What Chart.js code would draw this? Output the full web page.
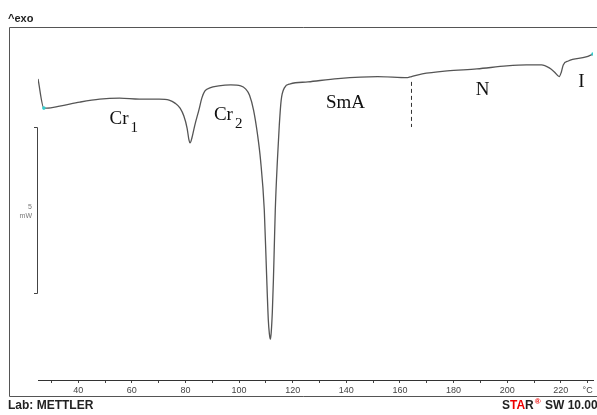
<!DOCTYPE html>
<html>
<head>
<meta charset="utf-8">
<script src="https://cdn.jsdelivr.net/npm/chart.js@4.4.1/dist/chart.umd.min.js"></script>
<style>
  html, body { margin: 0; padding: 0; background: #fff; }
  canvas { display: block; }
</style>
</head>
<body>
<canvas id="dscChart" width="597" height="415"></canvas>
<script>
// temperature (°C) and heat flow (mW, arbitrary offset)
const temps = [
  25.0, 27.2, 28.3, 33.1, 40.6, 48.0, 55.4, 62.8, 70.2, 73.9,
  76.1, 78.0, 79.4, 80.6, 81.3, 81.7, 82.4, 83.5, 85.0, 86.1,
  87.2, 89.1, 92.4, 96.9, 100.6, 102.4, 103.9, 105.4, 106.9, 108.0,
  109.4, 110.2, 110.9, 111.3, 111.7, 112.0, 112.4, 112.8, 113.1, 113.5,
  114.3, 115.0, 115.7, 116.9, 119.1, 125.7, 136.9, 151.7, 162.8, 164.3,
  168.3, 177.6, 188.7, 199.8, 207.2, 212.8, 215.7, 217.6, 219.4, 220.2,
  220.9, 222.8, 229.4, 232.0
];
const heatFlow = [
  9.07, 8.19, 8.19, 8.25, 8.37, 8.46, 8.49, 8.46, 8.46, 8.43,
  8.34, 8.19, 7.95, 7.59, 7.23, 7.14, 7.29, 7.68, 8.13, 8.49,
  8.70, 8.80, 8.86, 8.89, 8.86, 8.77, 8.58, 8.13, 7.38, 6.63,
  5.12, 3.31, 1.81, 1.39, 1.23, 1.45, 2.05, 3.01, 3.92, 5.12,
  6.63, 7.68, 8.43, 8.80, 8.92, 8.98, 9.08, 9.14, 9.11, 9.14,
  9.22, 9.31, 9.37, 9.46, 9.49, 9.49, 9.40, 9.28, 9.14, 9.28,
  9.49, 9.61, 9.73, 9.82
];
// SmA -> N transition marker
const transitionT = 164.3;
const transitionRange = [8.98, 7.62];

const xTicks = [30, 40, 50, 60, 70, 80, 90, 100, 110, 120, 130, 140, 150, 160, 170, 180, 190, 200, 210, 220, 230];
const unitLabel = '°C';

const phaseNames = ['Cr', 'Cr', 'SmA', 'N', 'I'];
const phaseSubs = ['1', '2', '', '', ''];
const phaseAt = [[51.7, 7.71], [90.6, 7.83], [132.4, 8.19], [188.3, 8.57], [226.5, 8.83]];

const scaleBar = [2.62, 7.62]; // 5 mW

const decor = {
  id: 'decor',
  afterDraw(chart) {
    const ctx = chart.ctx;
    const x = chart.scales.x, y = chart.scales.y;
    ctx.save();
    // frame
    ctx.strokeStyle = '#555';
    ctx.lineWidth = 1;
    ctx.beginPath();
    ctx.moveTo(600, 27.5);
    ctx.lineTo(9.5, 27.5);
    ctx.lineTo(9.5, 396.5);
    ctx.lineTo(600, 396.5);
    ctx.stroke();

    // header / footer
    ctx.fillStyle = '#222';
    ctx.font = 'bold 11px "Liberation Sans"';
    ctx.textBaseline = 'alphabetic';
    ctx.fillText('^exo', 8, 22);
    ctx.font = 'bold 12px "Liberation Sans"';
    ctx.fillText('Lab: METTLER', 8, 409);
    let px = 502;
    const parts = [['S', '#222'], ['TA', '#e00'], ['R', '#222']];
    parts.forEach(p => {
      ctx.fillStyle = p[1];
      ctx.fillText(p[0], px, 409);
      px += ctx.measureText(p[0]).width;
    });
    ctx.fillStyle = '#e00';
    ctx.font = 'bold 8px "Liberation Sans"';
    ctx.fillText('®', px + 1, 404);
    px += ctx.measureText('®').width + 2;
    ctx.fillStyle = '#222';
    ctx.font = 'bold 12px "Liberation Sans"';
    ctx.fillText(' SW 10.00', px, 409);

    // 5 mW scale bar
    const y1 = Math.round(y.getPixelForValue(scaleBar[1])) + 0.5;
    const y0 = Math.round(y.getPixelForValue(scaleBar[0])) + 0.5;
    ctx.strokeStyle = '#444';
    ctx.beginPath();
    ctx.moveTo(34, y1); ctx.lineTo(37.5, y1); ctx.lineTo(37.5, y0); ctx.lineTo(34, y0);
    ctx.stroke();
    ctx.fillStyle = '#777';
    ctx.font = '7px "Liberation Sans"';
    ctx.textAlign = 'right';
    const ym = (y0 + y1) / 2;
    ctx.fillText('5', 32, ym - 2);
    ctx.fillText('mW', 32, ym + 7);

    // phase labels
    ctx.textAlign = 'left';
    ctx.fillStyle = '#111';
    phaseNames.forEach((name, i) => {
      const lx = x.getPixelForValue(phaseAt[i][0]);
      const ly = y.getPixelForValue(phaseAt[i][1]);
      ctx.font = '19px "Liberation Serif"';
      ctx.fillText(name, lx, ly);
      if (phaseSubs[i]) {
        const w = ctx.measureText(name).width;
        ctx.font = '15px "Liberation Serif"';
        ctx.fillText(phaseSubs[i], lx + w + 2, ly + 8);
      }
    });
    ctx.restore();
  }
};

const ctx = document.getElementById('dscChart').getContext('2d');
const chart = new Chart(ctx, {
  type: 'line',
  data: {
    datasets: [
      {
        data: temps.map((t, i) => ({ x: t, y: heatFlow[i] })),
        borderColor: '#555',
        borderWidth: 1.3,
        cubicInterpolationMode: 'monotone',
        pointRadius: c => (c.dataIndex === 1 || c.dataIndex === temps.length - 1) ? 1.8 : 0,
        pointBackgroundColor: '#3cc',
        pointBorderColor: '#3cc',
        pointBorderWidth: 0,
      },
      {
        data: transitionRange.map(v => ({ x: transitionT, y: v })),
        borderColor: '#333',
        borderWidth: 1,
        borderDash: [4, 3],
        pointRadius: 0,
      }
    ]
  },
  options: {
    responsive: false,
    animation: false,
    layout: { padding: { left: 38, top: 27, right: 0, bottom: 0 } },
    plugins: { legend: { display: false }, tooltip: { enabled: false } },
    scales: {
      x: {
        type: 'linear',
        min: 25,
        max: 232,
        grid: { drawOnChartArea: false, tickLength: 3, color: '#444' },
        border: { color: '#333' },
        ticks: {
          autoSkip: false,
          maxRotation: 0,
          padding: 2,
          color: '#444',
          font: { size: 9, family: 'Liberation Sans' },
          callback: v => v === 230 ? unitLabel : (v % 20 === 0 ? String(v) : '')
        },
        afterBuildTicks: s => { s.ticks = xTicks.map(v => ({ value: v })); },
        afterFit: s => { s.height = 35; }
      },
      y: { display: false, min: 0, max: 10.633 }
    }
  },
  plugins: [decor]
});
</script>
</body>
</html>
